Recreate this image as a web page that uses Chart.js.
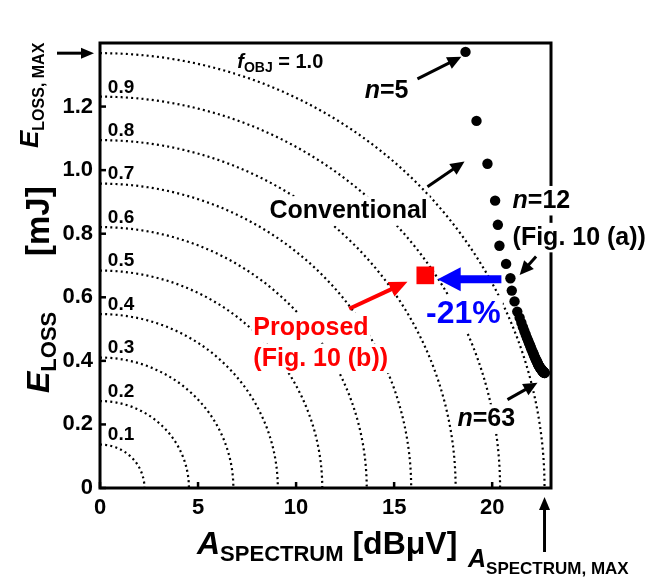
<!DOCTYPE html>
<html>
<head>
<meta charset="utf-8">
<script src="https://cdn.jsdelivr.net/npm/chart.js@4.4.1/dist/chart.umd.min.js"></script>
<style>
  html, body { margin: 0; padding: 0; background: #fff; }
  #wrap { width: 649px; height: 580px; }
</style>
</head>
<body>
<div id="wrap"><canvas id="chart" width="649" height="580"></canvas></div>
<script>
const FONT = '"Liberation Sans", Arial, sans-serif';

// conventional design, n = 5 ... 63
const aConventional = [
    18.64, 19.20, 19.76, 20.15, 20.29, 20.37, 20.71, 20.93, 21.00, 21.14, 21.28,
    21.40, 21.49, 21.57, 21.64, 21.71, 21.77, 21.83, 21.88, 21.93, 21.97, 22.01,
    22.05, 22.09, 22.12, 22.15, 22.18, 22.21, 22.24, 22.26, 22.29, 22.31, 22.33,
    22.35, 22.37, 22.39, 22.41, 22.43, 22.45, 22.46, 22.48, 22.49, 22.51, 22.52,
    22.53, 22.55, 22.56, 22.57, 22.58, 22.59, 22.60, 22.61, 22.62, 22.63, 22.64,
    22.65, 22.66, 22.67, 22.68
];
const eConventional = [
    1.372, 1.155, 1.020, 0.904, 0.828, 0.762, 0.705, 0.660, 0.621, 0.587, 0.555,
    0.536, 0.520, 0.506, 0.494, 0.483, 0.473, 0.464, 0.456, 0.449, 0.442, 0.436,
    0.430, 0.425, 0.420, 0.415, 0.411, 0.407, 0.403, 0.400, 0.397, 0.394, 0.391,
    0.388, 0.386, 0.384, 0.382, 0.380, 0.378, 0.377, 0.375, 0.374, 0.373, 0.372,
    0.371, 0.370, 0.369, 0.368, 0.367, 0.366, 0.366, 0.365, 0.365, 0.364, 0.364,
    0.363, 0.363, 0.362, 0.362
];

// proposed design
const aProposed = [16.59];
const eProposed = [0.669];

// objective contours and their maxima
const contourLevels = [0.1, 0.2, 0.3, 0.4, 0.5, 0.6, 0.7, 0.8, 0.9, 1.0];
const A_MAX = 22.67;
const E_MAX = 1.368;

const xTicks = [0, 5, 10, 15, 20];
const yTicks = [0, 0.2, 0.4, 0.6, 0.8, 1.0, 1.2];

function fontOf(r) {
    return (r.it ? 'italic ' : '') + 'bold ' + r.size + 'px ' + FONT;
}

function runsWidth(ctx, runs) {
    let w = 0;
    runs.forEach(r => { ctx.font = fontOf(r); w += ctx.measureText(r.t).width; });
    return w;
}

function drawBg(ctx, x, y, runs) {
    const w = runsWidth(ctx, runs);
    const size = Math.max(...runs.map(r => r.size));
    ctx.fillStyle = '#fff';
    ctx.fillRect(x - 2, y - size * 0.8 - 2, w + 4, size * 1.02 + 4);
}

function drawRuns(ctx, x, y, runs, color) {
    ctx.fillStyle = color;
    ctx.textAlign = 'left';
    ctx.textBaseline = 'alphabetic';
    let cx = x;
    runs.forEach(r => {
        ctx.font = fontOf(r);
        ctx.fillText(r.t, cx, y + (r.dy || 0));
        cx += ctx.measureText(r.t).width;
    });
}

function arrow(ctx, x1, y1, x2, y2, lw, hl, hw, color) {
    const ang = Math.atan2(y2 - y1, x2 - x1);
    const bx = x2 - hl * Math.cos(ang), by = y2 - hl * Math.sin(ang);
    ctx.strokeStyle = color;
    ctx.lineWidth = lw;
    ctx.lineCap = 'butt';
    ctx.setLineDash([]);
    ctx.beginPath();
    ctx.moveTo(x1, y1);
    ctx.lineTo(bx + Math.cos(ang), by + Math.sin(ang));
    ctx.stroke();
    ctx.fillStyle = color;
    ctx.beginPath();
    ctx.moveTo(x2, y2);
    ctx.lineTo(bx + hw / 2 * Math.sin(ang), by - hw / 2 * Math.cos(ang));
    ctx.lineTo(bx - hw / 2 * Math.sin(ang), by + hw / 2 * Math.cos(ang));
    ctx.closePath();
    ctx.fill();
}

// text annotations placed in data coordinates
const notes = [
    { x: 7.0, y: 1.322, color: '#000', runs: [{ t: 'f', size: 20, it: true }, { t: 'OBJ', size: 14, dy: 4 }, { t: ' = 1.0', size: 20 }] },
    { x: 13.5, y: 1.227, color: '#000', runs: [{ t: 'n', size: 25, it: true }, { t: '=5', size: 25 }] },
    { x: 8.64, y: 0.849, color: '#000', runs: [{ t: 'Conventional', size: 25 }] },
    { x: 21.04, y: 0.881, color: '#000', over: true, runs: [{ t: 'n', size: 25, it: true }, { t: '=12', size: 25 }] },
    { x: 21.04, y: 0.765, color: '#000', over: true, runs: [{ t: '(Fig. 10 (a))', size: 25 }] },
    { x: 18.23, y: 0.194, color: '#000', runs: [{ t: 'n', size: 25, it: true }, { t: '=63', size: 25 }] },
    { x: 7.82, y: 0.482, color: '#ff0000', runs: [{ t: 'Proposed', size: 25 }] },
    { x: 7.82, y: 0.385, color: '#ff0000', runs: [{ t: '(Fig. 10 (b))', size: 25 }] },
    { x: 16.63, y: 0.519, color: '#0000ff', runs: [{ t: '-21%', size: 32 }] }
];

// arrows in data coordinates: [x1, y1, x2, y2, lineWidth, headLen, headWidth, color]
const arrows = [
    [16.19, 1.287, 18.43, 1.357, 3, 14, 13, '#000'],
    [16.70, 0.948, 18.59, 1.027, 3, 14, 13, '#000'],
    [22.24, 0.728, 21.40, 0.670, 3, 14, 13, '#000'],
    [20.78, 0.278, 22.31, 0.331, 3, 14, 13, '#000'],
    [12.71, 0.564, 15.68, 0.649, 4, 18, 16, '#ff0000'],
    [20.47, 0.657, 17.22, 0.657, 8, 23, 24, '#0000ff']
];

const decorPlugin = {
    id: 'decor',
    beforeDatasetsDraw(chart) {
        const { ctx, chartArea: ca } = chart;
        const xs = chart.scales.x, ys = chart.scales.y;
        const X = v => xs.getPixelForValue(v), Y = v => ys.getPixelForValue(v);
        ctx.save();

        // dotted contour arcs
        const x0 = X(0), y0 = Y(0);
        ctx.strokeStyle = '#000';
        ctx.lineWidth = 2.2;
        ctx.setLineDash([2, 3.2]);
        contourLevels.forEach(f => {
            const rx = X(f * A_MAX) - x0, ry = y0 - Y(f * E_MAX);
            ctx.beginPath();
            ctx.ellipse(x0, y0, rx, ry, 0, -Math.PI / 2, 0);
            ctx.stroke();
        });
        ctx.setLineDash([]);

        // white boxes behind notes cut the arcs
        notes.forEach(n => drawBg(ctx, X(n.x), Y(n.y), n.runs));

        // frame
        ctx.strokeStyle = '#000';
        ctx.lineWidth = 3;
        ctx.strokeRect(ca.left, ca.top, ca.width, ca.height);

        // notes that sit over the right edge of the frame
        notes.filter(n => n.over).forEach(n => drawBg(ctx, X(n.x), Y(n.y), n.runs));

        // inward ticks
        ctx.strokeStyle = '#000';
        ctx.lineWidth = 2.5;
        xTicks.forEach(v => {
            ctx.beginPath(); ctx.moveTo(X(v), ca.bottom); ctx.lineTo(X(v), ca.bottom - 6); ctx.stroke();
        });
        yTicks.forEach(v => {
            ctx.beginPath(); ctx.moveTo(ca.left, Y(v)); ctx.lineTo(ca.left + 6, Y(v)); ctx.stroke();
        });

        // contour labels
        contourLevels.slice(0, 9).forEach(f => {
            drawRuns(ctx, X(0.4), Y(f * E_MAX + 0.013), [{ t: f.toFixed(1), size: 19 }], '#000');
        });

        notes.forEach(n => drawRuns(ctx, X(n.x), Y(n.y), n.runs, n.color));

        arrows.forEach(a => arrow(ctx, X(a[0]), Y(a[1]), X(a[2]), Y(a[3]), a[4], a[5], a[6], a[7]));

        // axis titles
        drawRuns(ctx, 197, 554, [{ t: 'A', size: 32, it: true }, { t: 'SPECTRUM', size: 22, dy: 7 }, { t: ' [dBμV]', size: 32 }], '#000');

        ctx.save();
        ctx.translate(49, 393);
        ctx.rotate(-Math.PI / 2);
        drawRuns(ctx, 0, 0, [{ t: 'E', size: 32, it: true }, { t: 'LOSS', size: 22, dy: 7 }], '#000');
        ctx.restore();
        ctx.save();
        ctx.translate(49, 256);
        ctx.rotate(-Math.PI / 2);
        drawRuns(ctx, 0, 0, [{ t: '[mJ]', size: 33 }], '#000');
        ctx.restore();

        // maxima markers
        drawRuns(ctx, 468, 567, [{ t: 'A', size: 25, it: true }, { t: 'SPECTRUM, MAX', size: 17, dy: 7 }], '#000');
        arrow(ctx, X(A_MAX), 552, X(A_MAX), ca.bottom + 9, 3, 13, 11, '#000');

        ctx.save();
        ctx.translate(38, 148);
        ctx.rotate(-Math.PI / 2);
        drawRuns(ctx, 0, 0, [{ t: 'E', size: 26, it: true }, { t: 'LOSS, MAX', size: 16, dy: 6 }], '#000');
        ctx.restore();
        arrow(ctx, 57, Y(E_MAX), ca.left - 6, Y(E_MAX), 3, 13, 11, '#000');

        ctx.restore();
    }
};

const tickFont = { family: FONT, size: 22, weight: 'bold' };

new Chart(document.getElementById('chart'), {
    type: 'scatter',
    data: {
        datasets: [
            {
                label: 'Conventional',
                data: aConventional.map((a, i) => ({ x: a, y: eConventional[i] })),
                pointStyle: 'circle',
                pointRadius: 5.2,
                backgroundColor: '#000',
                borderColor: '#000',
                borderWidth: 0,
                clip: false
            },
            {
                label: 'Proposed',
                data: aProposed.map((a, i) => ({ x: a, y: eProposed[i] })),
                pointStyle: 'rect',
                pointRadius: 12.5,
                backgroundColor: '#ff0000',
                borderColor: '#ff0000',
                borderWidth: 0,
                clip: false
            }
        ]
    },
    options: {
        responsive: false,
        animation: false,
        devicePixelRatio: 1,
        layout: { padding: { top: 43, right: 98, left: 0, bottom: 0 } },
        plugins: { legend: { display: false }, tooltip: { enabled: false } },
        scales: {
            x: {
                type: 'linear',
                min: 0,
                max: 23,
                afterBuildTicks: s => { s.ticks = xTicks.map(v => ({ value: v })); },
                afterFit: s => { s.height = 92; },
                grid: { display: false, drawTicks: false },
                border: { display: false },
                ticks: { font: tickFont, color: '#000', padding: 7, maxRotation: 0, callback: v => String(v) }
            },
            y: {
                type: 'linear',
                min: 0,
                max: 1.4,
                afterBuildTicks: s => { s.ticks = yTicks.map(v => ({ value: v })); },
                afterFit: s => { s.width = 100; },
                grid: { display: false, drawTicks: false },
                border: { display: false },
                ticks: { font: tickFont, color: '#000', padding: 7, callback: v => v === 0 ? '0' : v.toFixed(1) }
            }
        }
    },
    plugins: [decorPlugin]
});
</script>
</body>
</html>
